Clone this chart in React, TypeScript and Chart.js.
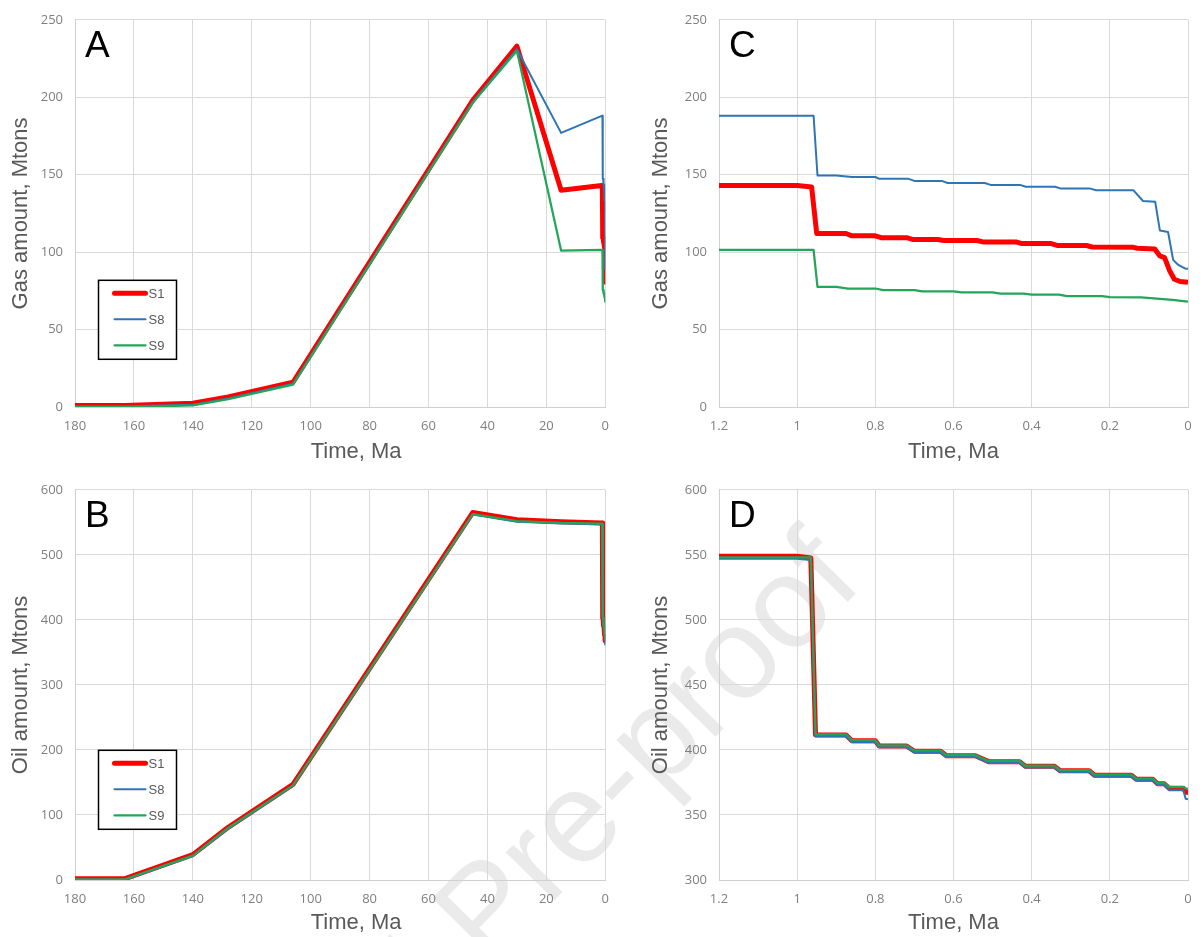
import React, { useEffect, useRef } from 'react';
import { Chart, registerables } from 'chart.js';

Chart.register(...registerables);

// ---------------- data ----------------
// Model event times (Ma) used by the long-range panels (A, B)
const earlyTime = [180, 163, 140, 128, 106, 45, 30, 15];

// Gas amount, Mtons (panel A, before 1.2 Ma)
const gasEarlyS1 = [1, 1, 2.5, 6.5, 16, 198, 233, 140];
const gasEarlyS8 = [0.5, 0.5, 1.5, 5.5, 15, 197, 231, 177];
const gasEarlyS9 = [0, 0, 1, 5, 14.5, 196.5, 230, 101];

// Oil amount, Mtons (panel B, before 1.2 Ma)
const oilEarlyS1 = [2, 2, 39, 81, 147, 565, 554, 551];
const oilEarlyS8 = [0.5, 0.5, 37, 79, 145, 562, 551, 548];
const oilEarlyS9 = [1, 1, 37.5, 80, 145.5, 562.5, 552, 549];

// Gas, last 1.2 Ma (panel C)
const gasLateTimeS1 = [1.2, 1.0, 0.963, 0.95, 0.875, 0.86, 0.8, 0.785, 0.72, 0.705, 0.64, 0.625, 0.54, 0.525, 0.44, 0.425, 0.35, 0.335, 0.26, 0.245, 0.14, 0.13, 0.085, 0.072, 0.06, 0.047, 0.035, 0.02, 0];
const gasLateS1 = [143, 143, 142, 112, 112, 110.5, 110.5, 109.3, 109.3, 108.2, 108.2, 107.5, 107.5, 106.6, 106.6, 105.5, 105.5, 104.3, 104.3, 103.3, 103.1, 102.5, 102, 97.5, 96.5, 88, 82.5, 81, 80.5];

const gasLateTimeS8 = [1.2, 0.958, 0.948, 0.9, 0.86, 0.8, 0.79, 0.715, 0.7, 0.63, 0.615, 0.52, 0.505, 0.43, 0.415, 0.34, 0.325, 0.25, 0.235, 0.14, 0.115, 0.084, 0.072, 0.051, 0.038, 0.026, 0.008, 0];
const gasLateS8 = [188, 188, 149.5, 149.5, 148.5, 148.5, 147.3, 147.3, 146, 146, 144.6, 144.6, 143.4, 143.4, 142.2, 142.2, 141, 141, 140, 140, 133, 132.5, 114, 113, 95, 92, 89.5, 89.3];

const gasLateTimeS9 = [1.2, 0.958, 0.948, 0.9, 0.87, 0.8, 0.78, 0.7, 0.68, 0.6, 0.58, 0.5, 0.48, 0.42, 0.4, 0.33, 0.31, 0.22, 0.2, 0.12, 0.08, 0.04, 0];
const gasLateS9 = [101.5, 101.5, 77.5, 77.5, 76.5, 76.5, 75.5, 75.5, 74.7, 74.7, 74, 74, 73.2, 73.2, 72.6, 72.6, 71.6, 71.6, 71, 70.8, 70, 69.2, 68];

// Oil, last 1.2 Ma (panel D)
const oilLateTime = [1.2, 1.0, 0.965, 0.953, 0.875, 0.86, 0.8, 0.79, 0.72, 0.7, 0.633, 0.618, 0.544, 0.51, 0.431, 0.416, 0.342, 0.327, 0.253, 0.239, 0.145, 0.132, 0.09, 0.078, 0.061, 0.048, 0.012, 0.006, 0];
const oilLateS1 = [549, 549, 547.5, 411.5, 411.5, 407, 407, 403, 403, 399, 399, 395.5, 395.5, 391, 391, 387.5, 387.5, 384, 384, 380.5, 380.5, 377.5, 377.5, 374, 374, 370.5, 370.5, 367.5, 367.5];
const oilLateS8 = [547, 547, 546, 410.5, 410.5, 406, 406, 402, 402, 398, 398, 394.5, 394.5, 390, 390, 386.5, 386.5, 383, 383, 379.5, 379.5, 376.5, 376.5, 373, 373, 369, 369, 362.5, 362];
const oilLateS9 = [548, 548, 548, 412, 412, 407.5, 407.5, 403.5, 403.5, 399.5, 399.5, 396, 396, 391.5, 391.5, 388, 388, 384.5, 384.5, 381, 381, 378, 378, 374.5, 374.5, 371.5, 371.5, 370.5, 370];

// Axis ticks
const longTimeTicks = [180, 160, 140, 120, 100, 80, 60, 40, 20, 0];
const longTimeLabels = ['180', '160', '140', '120', '100', '80', '60', '40', '20', '0'];
const shortTimeTicks = [1.2, 1, 0.8, 0.6, 0.4, 0.2, 0];
const shortTimeLabels = ['1.2', '1', '0.8', '0.6', '0.4', '0.2', '0'];
const gasTicks = [0, 50, 100, 150, 200, 250];
const gasTickLabels = ['0', '50', '100', '150', '200', '250'];
const oilLongTicks = [0, 100, 200, 300, 400, 500, 600];
const oilLongTickLabels = ['0', '100', '200', '300', '400', '500', '600'];
const oilShortTicks = [300, 350, 400, 450, 500, 550, 600];
const oilShortTickLabels = ['300', '350', '400', '450', '500', '550', '600'];

const seriesNames = ['S1', 'S8', 'S9'];
const panelLetters = ['A', 'B', 'C', 'D'];
const timeTitle = 'Time, Ma';
const gasTitle = 'Gas amount, Mtons';
const oilTitle = 'Oil amount, Mtons';
const watermarkText = 'Journal Pre-proof';

// ---------------- styling ----------------
const FONT = '"Liberation Sans", Arial, sans-serif';
const TICK_FONT = '"Open Sans", "Liberation Sans", sans-serif';
const seriesStyle = [
  { color: '#FF0000', width: 5, order: 3 },
  { color: '#2E75B6', width: 2, order: 2 },
  { color: '#23A55A', width: 2.25, order: 1 },
];

const pts = (t: number[], v: number[]) => t.map((x, i) => ({ x, y: v[i] }));

const gasLong = [
  pts(earlyTime.concat(gasLateTimeS1), gasEarlyS1.concat(gasLateS1)),
  pts(earlyTime.concat(gasLateTimeS8), gasEarlyS8.concat(gasLateS8)),
  pts(earlyTime.concat(gasLateTimeS9), gasEarlyS9.concat(gasLateS9)),
];
const gasShort = [pts(gasLateTimeS1, gasLateS1), pts(gasLateTimeS8, gasLateS8), pts(gasLateTimeS9, gasLateS9)];
const oilLong = [
  pts(earlyTime.concat(oilLateTime), oilEarlyS1.concat(oilLateS1)),
  pts(earlyTime.concat(oilLateTime), oilEarlyS8.concat(oilLateS8)),
  pts(earlyTime.concat(oilLateTime), oilEarlyS9.concat(oilLateS9)),
];
const oilShort = [pts(oilLateTime, oilLateS1), pts(oilLateTime, oilLateS8), pts(oilLateTime, oilLateS9)];

const decoPlugin = {
  id: 'panelDeco',
  afterDatasetsDraw(chart: any, _args: any, opts: any) {
    const { ctx, chartArea } = chart;
    ctx.save();
    // x-axis title (Excel placed it slightly off-centre on the long panels)
    ctx.font = `22px ${FONT}`;
    ctx.fillStyle = '#595959';
    ctx.textAlign = 'center';
    ctx.textBaseline = 'middle';
    ctx.fillText(opts.xTitle, (chartArea.left + chartArea.right) / 2 + opts.xTitleShift, chart.height - 13.2 - opts.xTitlePad);
    // panel letter
    ctx.font = `37px ${FONT}`;
    ctx.fillStyle = '#000000';
    ctx.textBaseline = 'alphabetic';
    ctx.textAlign = 'left';
    ctx.fillText(opts.letter, chartArea.left + 10, chartArea.top + 37);
    if (opts.legend) {
      const bx = chartArea.left + 23.5;
      const by = chartArea.top + 260.5;
      const bw = 78;
      const bh = 79;
      ctx.fillStyle = '#ffffff';
      ctx.fillRect(bx, by, bw, bh);
      ctx.strokeStyle = '#000000';
      ctx.lineWidth = 1.5;
      ctx.strokeRect(bx, by, bw, bh);
      chart.data.datasets.forEach((ds: any, i: number) => {
        const y = by + 13 + i * 26;
        ctx.beginPath();
        ctx.moveTo(bx + 16, y);
        ctx.lineTo(bx + 47, y);
        ctx.strokeStyle = ds.borderColor;
        ctx.lineWidth = ds.borderWidth;
        ctx.lineCap = 'round';
        ctx.stroke();
        ctx.fillStyle = '#595959';
        ctx.font = `13px ${FONT}`;
        ctx.textBaseline = 'middle';
        ctx.fillText(ds.label, bx + 50, y + 1);
      });
    }
    ctx.restore();
  },
};

type PanelCfg = {
  left: number; top: number; w: number; h: number;
  pad: { left: number; right: number; top: number };
  yWidth: number; xHeight: number; xTitlePad: number; xTitleShift: number;
  data: { x: number; y: number }[][];
  xMin: number; xMax: number; xTicks: number[]; xLabels: string[];
  yMin: number; yMax: number; yTicks: number[]; yLabels: string[];
  yTitle: string; letter: string; legend: boolean;
};

const panels: PanelCfg[] = [
  {
    left: 0, top: 0, w: 620, h: 470, pad: { left: 0, right: 13, top: 16 }, yWidth: 75, xHeight: 63, xTitlePad: 5, xTitleShift: 16,
    data: gasLong, xMin: 0, xMax: 180, xTicks: longTimeTicks, xLabels: longTimeLabels,
    yMin: 0, yMax: 250, yTicks: gasTicks, yLabels: gasTickLabels, yTitle: gasTitle, letter: panelLetters[0], legend: true,
  },
  {
    left: 0, top: 470, w: 620, h: 467, pad: { left: 0, right: 13, top: 18 }, yWidth: 75, xHeight: 57, xTitlePad: 1, xTitleShift: 16,
    data: oilLong, xMin: 0, xMax: 180, xTicks: longTimeTicks, xLabels: longTimeLabels,
    yMin: 0, yMax: 600, yTicks: oilLongTicks, yLabels: oilLongTickLabels, yTitle: oilTitle, letter: panelLetters[1], legend: true,
  },
  {
    left: 610, top: 0, w: 594, h: 470, pad: { left: 30, right: 16, top: 16 }, yWidth: 79, xHeight: 63, xTitlePad: 5, xTitleShift: 0,
    data: gasShort, xMin: 0, xMax: 1.2, xTicks: shortTimeTicks, xLabels: shortTimeLabels,
    yMin: 0, yMax: 250, yTicks: gasTicks, yLabels: gasTickLabels, yTitle: gasTitle, letter: panelLetters[2], legend: false,
  },
  {
    left: 610, top: 470, w: 594, h: 467, pad: { left: 30, right: 16, top: 18 }, yWidth: 79, xHeight: 57, xTitlePad: 1, xTitleShift: 0,
    data: oilShort, xMin: 0, xMax: 1.2, xTicks: shortTimeTicks, xLabels: shortTimeLabels,
    yMin: 300, yMax: 600, yTicks: oilShortTicks, yLabels: oilShortTickLabels, yTitle: oilTitle, letter: panelLetters[3], legend: false,
  },
];

function Panel({ cfg }: { cfg: PanelCfg }) {
  const ref = useRef<HTMLCanvasElement | null>(null);
  useEffect(() => {
    if (!ref.current) return;
    const gridColor = '#D9D9D9';
    const chart = new Chart(ref.current, {
      type: 'line',
      data: {
        datasets: cfg.data.map((d, i) => ({
          label: seriesNames[i],
          data: d,
          borderColor: seriesStyle[i].color,
          backgroundColor: seriesStyle[i].color,
          borderWidth: seriesStyle[i].width,
          order: seriesStyle[i].order,
          pointRadius: 0,
          tension: 0,
          fill: false,
          borderJoinStyle: 'round',
        })),
      },
      options: {
        animation: false,
        responsive: false,
        maintainAspectRatio: false,
        events: [],
        layout: { padding: { left: cfg.pad.left, right: cfg.pad.right, top: cfg.pad.top, bottom: 0 } },
        plugins: {
          legend: { display: false },
          tooltip: { enabled: false },
          panelDeco: {
            letter: cfg.letter,
            legend: cfg.legend,
            xTitle: timeTitle,
            xTitleShift: cfg.xTitleShift,
            xTitlePad: cfg.xTitlePad,
          },
        } as any,
        scales: {
          x: {
            type: 'linear',
            reverse: true,
            min: cfg.xMin,
            max: cfg.xMax,
            afterBuildTicks: (s: any) => { s.ticks = cfg.xTicks.map((value) => ({ value })); },
            afterFit: (s: any) => { s.height = cfg.xHeight; },
            grid: { color: gridColor, lineWidth: 1, drawTicks: false },
            border: { color: '#CFCFCF', width: 1 },
            ticks: {
              padding: 11,
              color: '#7F7F7F',
              font: { family: TICK_FONT, size: 13 },
              maxRotation: 0,
              autoSkip: false,
              callback: (v: any) => { const i = cfg.xTicks.indexOf(Number(v)); return i >= 0 ? cfg.xLabels[i] : ''; },
            },
            title: { display: false },
          },
          y: {
            type: 'linear',
            min: cfg.yMin,
            max: cfg.yMax,
            afterBuildTicks: (s: any) => { s.ticks = cfg.yTicks.map((value) => ({ value })); },
            afterFit: (s: any) => { s.width = cfg.yWidth; },
            grid: { color: gridColor, lineWidth: 1, drawTicks: false },
            border: { color: '#CFCFCF', width: 1 },
            ticks: {
              padding: 12,
              color: '#7F7F7F',
              font: { family: TICK_FONT, size: 13 },
              autoSkip: false,
              callback: (v: any) => { const i = cfg.yTicks.indexOf(Number(v)); return i >= 0 ? cfg.yLabels[i] : ''; },
            },
            title: {
              display: true,
              text: cfg.yTitle,
              color: '#595959',
              font: { family: FONT, size: 22 },
              padding: { top: 8, bottom: 0 },
            },
          },
        },
      } as any,
      plugins: [decoPlugin],
    });
    return () => chart.destroy();
  }, [cfg]);
  return (
    <div style={{ position: 'absolute', left: cfg.left, top: cfg.top, width: cfg.w, height: cfg.h }}>
      <canvas ref={ref} width={cfg.w} height={cfg.h} style={{ width: cfg.w, height: cfg.h, display: 'block' }} />
    </div>
  );
}

export default function App() {
  return (
    <div style={{ position: 'absolute', left: 0, top: 0, width: 1204, height: 937, overflow: 'hidden', background: '#ffffff' }}>
      <div style={{ position: 'absolute', left: 488, top: 968, width: 0, height: 0, transform: 'rotate(-45.5deg)', transformOrigin: '0 0' }}>
        <span
          style={{
            position: 'absolute',
            left: '-3.557em',
            top: '-0.8465em',
            whiteSpace: 'nowrap',
            fontFamily: FONT,
            fontSize: 129,
            lineHeight: 1,
            color: '#EAEAEA',
          }}
        >
          {watermarkText}
        </span>
      </div>
      {panels.map((p, i) => (
        <Panel key={i} cfg={p} />
      ))}
    </div>
  );
}
